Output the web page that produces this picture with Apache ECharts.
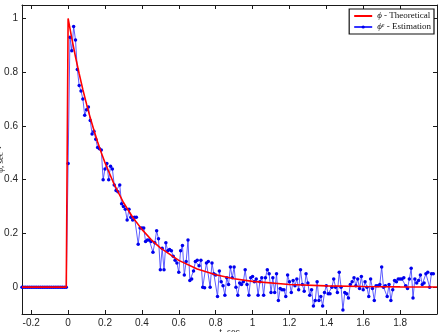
<!DOCTYPE html>
<html>
<head>
<meta charset="utf-8">
<script src="https://cdn.jsdelivr.net/npm/echarts@6/dist/echarts.min.js"></script>
<style>html,body{margin:0;padding:0;background:#fff;}#c{width:441px;height:332px;}</style>
</head>
<body>
<div id="c"></div>
<script>
// Time grid of the estimation samples
const estStart = -0.25;
const estStep = 0.01;
// Estimated phi^e values (t = -0.25 ... 1.98)
const estValues = [
 0,0,0,0,0,0,0,0,0,0,0,0,0,0,0,0,0,0,0,0,0,0,0,0,0,
 0.46,0.93,0.88,0.97,0.92,0.81,0.75,0.73,0.70,0.64,
 0.66,0.67,0.62,0.57,0.58,0.55,0.52,0.515,0.51,0.40,
 0.44,0.46,0.40,0.45,0.44,0.38,0.36,0.355,0.38,0.31,
 0.30,0.29,0.25,0.29,0.26,0.25,0.26,0.26,0.16,0.22,
 0.22,0.22,0.17,0.175,0.175,0.17,0.13,0.165,0.21,0.18,
 0.065,0.145,0.065,0.165,0.135,0.14,0.135,0.115,0.10,0.09,
 0.055,0.135,0.155,0.045,0.095,0.175,0.025,0.03,0.06,0.095,
 0.10,0.08,0.10,0.0,-0.002,0.09,0.095,0.0,0.09,0.05,
 0.045,-0.035,0.06,0.02,0.005,-0.03,0.035,0.01,0.075,0.035,
 0.075,0.0,-0.03,0.015,0.01,0.02,0.065,0.01,-0.03,0.035,
 0.04,0.02,0.03,-0.03,0.02,0.035,-0.03,0.035,0.065,0.05,
 -0.02,0.035,-0.02,0.05,-0.05,-0.005,-0.01,-0.01,-0.035,0.045,
 0.02,-0.02,0.025,0.005,0.03,-0.01,0.065,0.01,-0.015,0.05,
 0.015,-0.03,-0.01,-0.07,-0.05,0.02,-0.05,-0.035,-0.07,-0.02,
 0.005,-0.025,-0.025,0.0,0.03,0.0,-0.02,0.055,0.0,-0.085,
 -0.02,-0.025,-0.04,0.01,0.02,0.035,0.005,0.03,-0.005,0.04,
 -0.01,0.02,0.0,-0.035,0.03,-0.005,-0.05,0.005,0.005,0.01,
 0.075,0.0,0.005,-0.035,0.01,-0.05,-0.01,0.025,0.02,0.03,
 0.03,0.03,0.035,0.005,-0.005,0.03,0.07,-0.04,0.03,0.015,
 0.025,0.045,0.01,0.015,0.05,0.055,0.0,0.05,0.05
];
// Theoretical phi curve, read at these times
const theoT = [-0.25,-0.01,0,0.02,0.04,0.06,0.08,0.10,0.12,0.14,0.16,0.18,0.20,0.25,0.30,0.35,0.40,0.45,0.50,0.60,0.70,0.80,0.90,1.00,1.20,1.40,1.60,1.80,2.00];
const theoV = [0,0,1,0.926,0.857,0.794,0.735,0.681,0.630,0.584,0.540,0.500,0.463,0.382,0.315,0.260,0.215,0.177,0.146,0.0995,0.0677,0.0461,0.0314,0.0214,0.0099,0.0046,0.0021,0.001,0.0005];
// Axis ticks
const xTicks = [-0.2,0,0.2,0.4,0.6,0.8,1,1.2,1.4,1.6,1.8];
const xTickLabels = ['-0.2','0','0.2','0.4','0.6','0.8','1','1.2','1.4','1.6','1.8'];
const yTicks = [0,0.2,0.4,0.6,0.8,1];
const yTickLabels = ['0','0.2','0.4','0.6','0.8','1'];

const estData = estValues.map((v, i) => [+(estStart + i * estStep).toFixed(2), v]);
const theoData = theoT.map((t, i) => [t, theoV[i]]);

const chart = echarts.init(document.getElementById('c'), null, {renderer: 'canvas'});
const axisCommon = {
  axisLine: {show: true, onZero: false, lineStyle: {color: '#1a1a1a', width: 1}},
  splitLine: {show: false}
};
const lblColor = '#262626';
chart.setOption({
  animation: false,
  backgroundColor: '#fff',
  grid: {left: 22, right: 4, top: 5, bottom: 18, containLabel: false, outerBoundsMode: 'none'},
  legend: {
    data: [
      {name: 'theo', itemStyle: {opacity: 0}},
      {name: 'est'}
    ],
    orient: 'vertical',
    right: 7, top: 9,
    align: 'left',
    itemWidth: 18, itemHeight: 4, itemGap: 1,
    padding: [2, 3, 2, 4],
    borderColor: '#111', borderWidth: 1.2, borderRadius: 0,
    backgroundColor: '#fff',
    formatter: n => n === 'theo' ? '{p|\u03D5} - Theoretical' : '{p|\u03D5}{s|e} - Estimation',
    textStyle: {
      fontFamily: 'Liberation Serif', fontSize: 9, color: '#111', lineHeight: 10,
      rich: {
        p: {fontFamily: 'Liberation Serif', fontStyle: 'italic', fontSize: 9, color: '#111'},
        s: {fontFamily: 'Liberation Serif', fontStyle: 'italic', fontSize: 6, color: '#111', verticalAlign: 'top', lineHeight: 10}
      }
    }
  },
  xAxis: [
    Object.assign({}, axisCommon, {
      type: 'value', min: -0.25, max: 2.0, position: 'bottom',
      name: 't, sec', nameLocation: 'middle', nameGap: 13, nameMoveOverlap: false,
      nameTextStyle: {fontFamily: 'Liberation Serif', fontSize: 10, color: '#222'},
      axisTick: {show: true, inside: true, length: 4, customValues: xTicks, lineStyle: {color: '#1a1a1a'}},
      axisLabel: {show: true, customValues: xTicks, margin: 4, fontFamily: 'Liberation Sans', fontSize: 10, color: lblColor,
        formatter: v => { const i = xTicks.findIndex(x => Math.abs(x - v) < 1e-9); return i >= 0 ? xTickLabels[i] : ''; }}
    }),
    Object.assign({}, axisCommon, {
      type: 'value', min: -0.25, max: 2.0, position: 'top',
      axisTick: {show: true, inside: true, length: 4, customValues: xTicks, lineStyle: {color: '#1a1a1a'}},
      axisLabel: {show: false}
    })
  ],
  yAxis: [
    Object.assign({}, axisCommon, {
      type: 'value', min: -0.1, max: 1.05, position: 'left',
      name: '\u03D5, sec\u207B\u00B9', nameLocation: 'middle', nameGap: 17, nameRotate: 90, nameMoveOverlap: false,
      nameTextStyle: {fontFamily: 'Liberation Serif', fontSize: 9, color: '#222'},
      axisTick: {show: true, inside: true, length: 4, customValues: yTicks, lineStyle: {color: '#1a1a1a'}},
      axisLabel: {show: true, customValues: yTicks, margin: 4, fontFamily: 'Liberation Sans', fontSize: 10, color: lblColor,
        formatter: v => { const i = yTicks.findIndex(y => Math.abs(y - v) < 1e-9); return i >= 0 ? yTickLabels[i] : ''; }}
    }),
    Object.assign({}, axisCommon, {
      type: 'value', min: -0.1, max: 1.05, position: 'right',
      axisTick: {show: true, inside: true, length: 4, customValues: yTicks, lineStyle: {color: '#1a1a1a'}},
      axisLabel: {show: false}
    })
  ],
  series: [
    {
      name: 'theo', type: 'line', data: theoData, xAxisIndex: 0, yAxisIndex: 0,
      symbol: 'none', showSymbol: false, z: 3,
      lineStyle: {color: '#ff0000', width: 1.6},
      itemStyle: {color: '#ff0000'}
    },
    {
      name: 'est', type: 'line', data: estData, xAxisIndex: 0, yAxisIndex: 0,
      symbol: 'circle', symbolSize: 3.5, showAllSymbol: true, z: 2,
      lineStyle: {color: '#3333ff', width: 0.8},
      itemStyle: {color: '#0000ee', borderWidth: 0}
    }
  ]
});
</script>
</body>
</html>
